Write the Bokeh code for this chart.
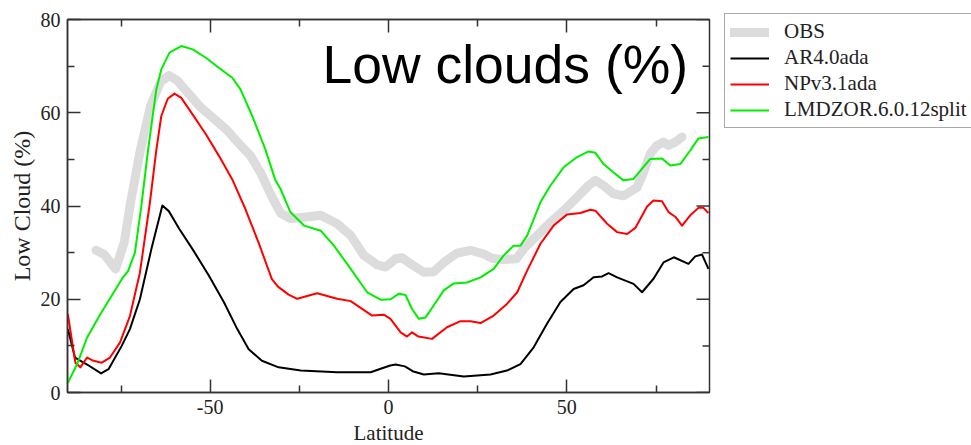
import math
from bokeh.plotting import figure
from bokeh.models import (Legend, LegendItem, LinearAxis, FixedTicker, Label, Range1d)
from bokeh.embed import file_html
from bokeh.resources import INLINE

# ---- data ----
obs_lat = [-82, -79.7, -76.5, -74.1, -72.3, -69.5, -66.7, -63.9, -61.5, -59.2, -56.4, -52.7,
           -48.9, -45.2, -41.5, -38.7, -35.9, -33.1, -30.3, -27.5, -23.7, -19, -14.4, -10.6,
           -6.9, -3.2, -0.8, 2, 3.8, 6.6, 9.9, 12.7, 15.5, 19.2, 23, 26.7, 29, 32, 35.9,
           37.9, 41.7, 45.4, 49.1, 52.9, 56.1, 58, 60.3, 63.1, 65.9, 69.7, 71.5, 73.4, 75.3,
           77.1, 78.5, 80.4, 82.3]
obs_val = [30.5, 29.6, 26.5, 32.2, 40.8, 52.3, 61.5, 66.6, 68, 66.9, 64.4, 61.2,
           58.7, 56.2, 53, 50.8, 47.2, 42.6, 38.5, 37.3, 37.6, 38, 36.2, 33.7,
           29.4, 27.4, 26.9, 28.7, 28.9, 27.4, 25.8, 25.9, 27.9, 29.9, 30.5, 29.7, 28.8, 28.5, 28.7,
           30.8, 33.7, 36.5, 39, 41.9, 44.4, 45.5, 44.4, 42.6, 42.2, 44, 47.2, 51.2, 53,
           53.7, 53, 53.7, 54.8]

ar4_lat = [-89.9, -87.9, -84.5, -80.6, -78.5, -74.8, -72.5, -69.7, -66.5, -63.4, -61.6, -58.6,
           -54.9, -50.3, -46.1, -42.4, -39.2, -35.5, -30.8, -24.6, -14.4, -5, -2.2, 0.5, 2,
           4.6, 7, 9.9, 14.1, 21.1, 28.6, 33.2, 37, 40.7, 44.4, 48.2, 51.9, 54.7, 57.5, 59.9,
           61.7, 64.1, 68.7, 71.1, 74.3, 77.1, 80, 84.1, 86, 87.9, 89.7]
ar4_val = [13.6, 7.5, 6, 4.1, 5, 10, 13.6, 20, 30.7, 40.1, 38.9, 35,
           30.7, 25, 19.3, 13.6, 9.3, 6.8, 5.4, 4.7, 4.35, 4.35, 5.1, 5.8, 6.0,
           5.6, 4.5, 3.86, 4.15, 3.43, 3.86, 4.7, 6.1, 9.7, 14.7, 19.4, 22.2, 23, 24.7, 24.9,
           25.6, 24.7, 23.3, 21.5, 24.4, 27.9, 29, 27.6, 29.2, 29.6, 26.5]

npv_lat = [-89.9, -87.8, -86.4, -84.5, -82.7, -80.4, -78.1, -75.3, -72.5, -69.7, -66.9, -65.1,
           -63.7, -61.9, -60, -58.1, -54.9, -51.2, -47.5, -43.8, -40.1, -36.4, -32.7, -31,
           -28, -25.6, -20, -14.4, -10.6, -4.6, -1.3, 0.56, 3.4, 5.2, 6.6, 8.4, 12.2, 16.4,
           20.2, 23, 25.8, 29.5, 33.2, 36.1, 38.9, 42.6, 46.3, 50.1, 53.8, 56.6, 58, 61.3,
           64.1, 66.9, 69.2, 72.5, 74.3, 76.7, 78.5, 80.4, 82.3, 84.6, 86.9, 88.3, 89.7]
npv_val = [16.8, 6.4, 5.4, 7.5, 6.8, 6.4, 7.5, 10.7, 16.4, 25.7, 40.7, 52,
           59.3, 63, 64.1, 63.2, 59.6, 55.4, 50.7, 45.7, 39.3, 32.1, 24.3, 22.7,
           21, 20.1, 21.3, 20.1, 19.6, 16.5, 16.7, 15.8, 12.9, 12, 12.9, 12, 11.5, 14,
           15.3, 15.3, 14.9, 16.5, 19, 21.5, 26.2, 31.9, 35.8, 38.2, 38.5, 39.2, 39, 36.2,
           34.4, 34, 35.3, 39.9, 41.2, 41, 38.7, 37.7, 35.8, 38, 39.6, 39.6, 38.5]

lmd_lat = [-89.9, -87.3, -84.5, -80.8, -77.1, -74.8, -73, -71.1, -69.3, -67.4, -65.1, -63.7,
           -61.4, -58.1, -54.9, -51.2, -47.5, -43.8, -41.5, -38.2, -34.5, -31.8, -30.3, -27.5,
           -23.7, -19, -15.3, -10.6, -6, -2.2, 0.6, 2.9, 4.8, 6.6, 8.5, 10.4, 12.7, 15.5,
           18.3, 22, 25.8, 29.5, 32.3, 35.1, 37, 38.9, 42.6, 45.4, 49.1, 52.9, 56.1, 58,
           60.3, 63.1, 65.9, 68.7, 71.1, 73.4, 76.7, 79, 81.8, 84.6, 86.9, 89.7]
lmd_val = [2.1, 6.1, 11.8, 16.8, 21.4, 24.3, 26.1, 30, 40, 52.1, 65, 69.3,
           72.9, 74.3, 73.6, 71.8, 69.6, 67.5, 65, 59.3, 52.1, 45.7, 43.7, 38.7,
           35.8, 34.7, 31.5, 26.5, 21.5, 19.9, 20, 21.2, 20.9, 17.9, 15.8, 16.1, 18.7, 21.9,
           23.4, 23.6, 24.7, 26.5, 29.4, 31.5, 31.5, 33.7, 40.8, 44.4, 48.3, 50.5, 51.7, 51.4,
           49, 47.2, 45.5, 45.8, 48, 50.1, 50.2, 48.7, 49, 51.9, 54.5, 54.8]

x_ticks = [-50, 0, 50]
x_minor = [-75, -25, 25, 75]
x_tick_labels = ["-50", "0", "50"]
y_ticks = [0, 20, 40, 60, 80]
y_minor = [10, 30, 50, 70]
X_MAX = 90

SERIF = "Liberation Serif"
FRAME = "#333333"

p = figure(frame_width=642, frame_height=373,
           x_range=Range1d(-X_MAX, X_MAX), y_range=Range1d(0, 80),
           output_backend="svg", toolbar_location=None,
           min_border_left=67, min_border_right=262, min_border_top=19, min_border_bottom=53,
           x_axis_label="Latitude", y_axis_label="Low Cloud (%)")
p.grid.visible = False
p.outline_line_color = FRAME
p.outline_line_width = 1.5
p.background_fill_color = "white"
p.border_fill_color = "white"

xt = FixedTicker(ticks=x_ticks, minor_ticks=x_minor)
yt = FixedTicker(ticks=y_ticks, minor_ticks=y_minor)


def style(ax):
    ax.axis_line_color = FRAME
    ax.axis_line_width = 1.5
    ax.major_tick_line_color = FRAME
    ax.minor_tick_line_color = FRAME
    ax.major_tick_line_width = 1.5
    ax.minor_tick_line_width = 1.5
    ax.major_tick_in = 13
    ax.major_tick_out = 0
    ax.minor_tick_in = 7
    ax.minor_tick_out = 0
    ax.major_label_text_font = SERIF
    ax.major_label_text_font_size = "20px"
    ax.major_label_text_color = "#222222"
    ax.axis_label_text_font = SERIF
    ax.axis_label_text_font_size = "21px"
    ax.axis_label_text_font_style = "normal"
    ax.axis_label_text_color = "#222222"


p.xaxis.ticker = xt
p.yaxis.ticker = yt
style(p.xaxis[0])
style(p.yaxis[0])
p.xaxis[0].major_label_overrides = dict(zip(x_ticks, x_tick_labels))
p.xaxis[0].major_label_standoff = 7
p.xaxis[0].axis_label_standoff = 4
p.yaxis[0].major_label_standoff = 7
p.yaxis[0].axis_label_standoff = 3
p.yaxis[0].axis_label_text_font_size = "24px"

top = LinearAxis(ticker=xt)
style(top)
top.major_label_overrides = {t: "" for t in x_ticks}
top.major_label_text_font_size = "1px"
top.major_label_standoff = 0
p.add_layout(top, "above")

# inward ticks on the right edge of the frame
p.ray(x=[X_MAX] * len(y_ticks), y=y_ticks, length=13, length_units="screen",
      angle=math.pi, line_color=FRAME, line_width=1.5)
p.ray(x=[X_MAX] * len(y_minor), y=y_minor, length=7, length_units="screen",
      angle=math.pi, line_color=FRAME, line_width=1.5)

r_obs = p.line(obs_lat, obs_val, line_color="#dcdcdc", line_width=9,
               line_join="round", line_cap="round")
r_ar4 = p.line(ar4_lat, ar4_val, line_color="black", line_width=2, line_join="round")
r_npv = p.line(npv_lat, npv_val, line_color="#ff0000", line_width=2, line_join="round")
r_lmd = p.line(lmd_lat, lmd_val, line_color="#00ee00", line_width=2, line_join="round")

p.add_layout(Label(x=84, y=70.3, text="Low clouds (%)", text_align="right",
                   text_baseline="alphabetic", text_font="Liberation Sans",
                   text_font_size="53.5px", text_color="black"))

legend = Legend(items=[
    LegendItem(label="OBS", renderers=[r_obs]),
    LegendItem(label="AR4.0ada", renderers=[r_ar4]),
    LegendItem(label="NPv3.1ada", renderers=[r_npv]),
    LegendItem(label="LMDZOR.6.0.12split", renderers=[r_lmd]),
], location=(15, 264), margin=0, padding=5, spacing=1,
    glyph_width=39, glyph_height=20, label_height=20, label_standoff=15,
    label_text_font=SERIF, label_text_font_size="21px", label_text_color="#222222",
    border_line_color="#555555", border_line_width=1.5,
    background_fill_color="white", background_fill_alpha=1.0)
p.add_layout(legend, "right")

open("out.html", "w").write(file_html(p, INLINE))
